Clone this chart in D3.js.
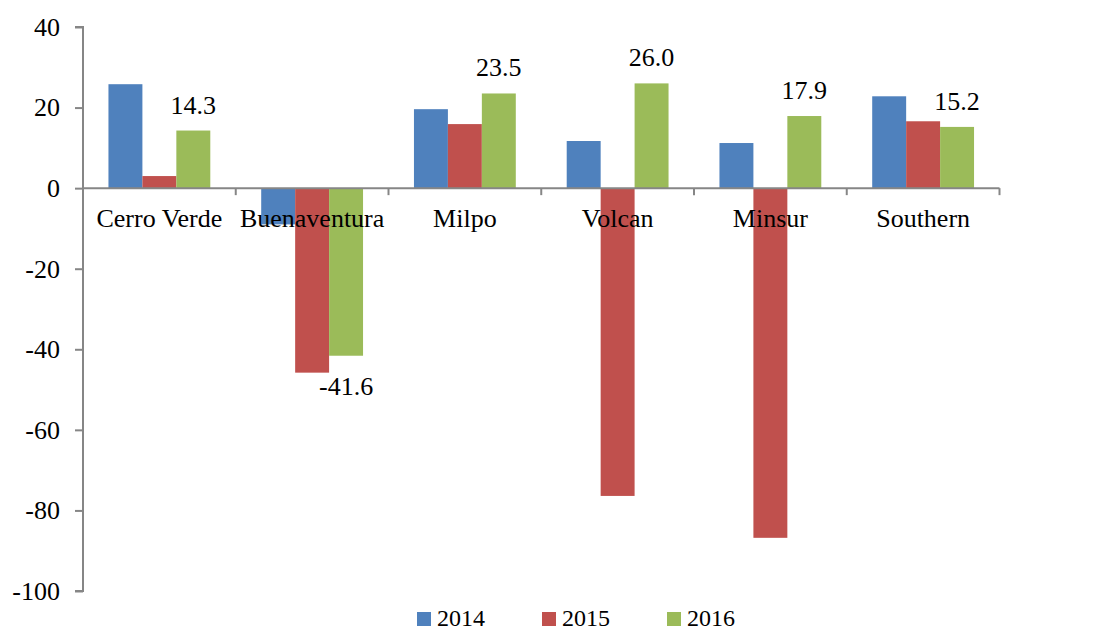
<!DOCTYPE html>
<html>
<head>
<meta charset="utf-8">
<script src="https://cdn.jsdelivr.net/npm/d3@7"></script>
<style>
  body { margin: 0; background: #fff; }
  svg text { font-family: "Liberation Serif", "Times New Roman", serif; fill: #000; }
</style>
</head>
<body>
<svg id="chart" width="1114" height="632"></svg>
<script>
// data
const companies = ["Cerro Verde", "Buenaventura", "Milpo", "Volcan", "Minsur", "Southern"];
const years = ["2014", "2015", "2016"];
const v2014 = [25.8, -9.0, 19.6, 11.7, 11.2, 22.8];
const v2015 = [3.0, -45.8, 15.9, -76.4, -86.8, 16.6];
const v2016 = [14.3, -41.6, 23.5, 26.0, 17.9, 15.2];
const yTicks = [40, 20, 0, -20, -40, -60, -80, -100];
const colors = ["#4F81BD", "#C0504D", "#9BBB59"];

const series = [v2014, v2015, v2016];
const rows = companies.map((c, i) => ({ name: c, values: series.map(s => s[i]) }));

const svg = d3.select("#chart");
const axisColor = "#868686";
const fs = "26px";

const x = d3.scaleBand().domain(companies).range([83, 999.5]).paddingInner(0).paddingOuter(0);
// excel style gap: bars take 2/3 of each category
const x1 = d3.scaleBand().domain(years).range([0, x.bandwidth()]).paddingInner(0).paddingOuter(0.75);
const y = d3.scaleLinear().domain([-100, 40]).range([591, 27]);

// bars
const groups = svg.append("g").selectAll("g")
    .data(rows)
    .enter().append("g")
    .attr("transform", d => `translate(${x(d.name)},0)`);

groups.selectAll("rect")
    .data(d => d.values.map((v, k) => ({ year: years[k], value: v, k })))
    .enter().append("rect")
    .attr("x", d => x1(d.year))
    .attr("width", x1.bandwidth())
    .attr("y", d => y(Math.max(0, d.value)))
    .attr("height", d => Math.abs(y(d.value) - y(0)))
    .attr("fill", d => colors[d.k]);

// data labels for 2016 only
groups.append("text")
    .attr("x", x1("2016") + x1.bandwidth() / 2)
    .attr("y", d => d.values[2] >= 0 ? y(d.values[2]) - 17 : y(d.values[2]) + 39)
    .attr("text-anchor", "middle")
    .style("font-size", fs)
    .text(d => d.values[2].toFixed(1));

// y axis
const yAxis = svg.append("g")
    .attr("transform", "translate(83,0)")
    .call(d3.axisLeft(y).tickValues(yTicks).tickSize(8).tickPadding(15).tickFormat(d => String(d)));
yAxis.select(".domain").attr("stroke", axisColor).attr("stroke-width", 2)
    .attr("d", `M-8,${y(40)}H0V${y(-100)}H-8`);
yAxis.selectAll(".tick line").attr("stroke", axisColor).attr("stroke-width", 2);
yAxis.selectAll(".tick text").style("font-size", fs).attr("dy", "0.32em")
    .style("font-family", "Liberation Serif");

// x axis at zero
const xAxis = svg.append("g")
    .attr("transform", `translate(0,${y(0)})`)
    .call(d3.axisBottom(x).tickSize(0).tickPadding(0).tickFormat(""));
xAxis.select(".domain").attr("stroke", axisColor).attr("stroke-width", 2)
    .attr("d", `M83,0H${x.range()[1]}`);
xAxis.selectAll(".tick").remove();
// category boundary ticks
const bounds = companies.map(c => x(c)).concat([x.range()[1]]);
xAxis.selectAll("line.cat").data(bounds).enter().append("line")
    .attr("x1", d => d).attr("x2", d => d).attr("y1", 0).attr("y2", 7)
    .attr("stroke", axisColor).attr("stroke-width", 2);
xAxis.selectAll("text.cat").data(companies).enter().append("text")
    .attr("x", d => x(d) + x.bandwidth() / 2)
    .attr("y", 39)
    .attr("text-anchor", "middle")
    .style("font-size", fs)
    .text(d => d);

// legend
const legend = svg.append("g").attr("transform", "translate(417,612)");
const li = legend.selectAll("g").data(years).enter().append("g")
    .attr("transform", (d, i) => `translate(${i * 125},0)`);
li.append("rect").attr("width", 14).attr("height", 14).attr("fill", (d, i) => colors[i]);
li.append("text").attr("x", 20).attr("y", 14).style("font-size", "24px").text(d => d);
</script>
</body>
</html>
